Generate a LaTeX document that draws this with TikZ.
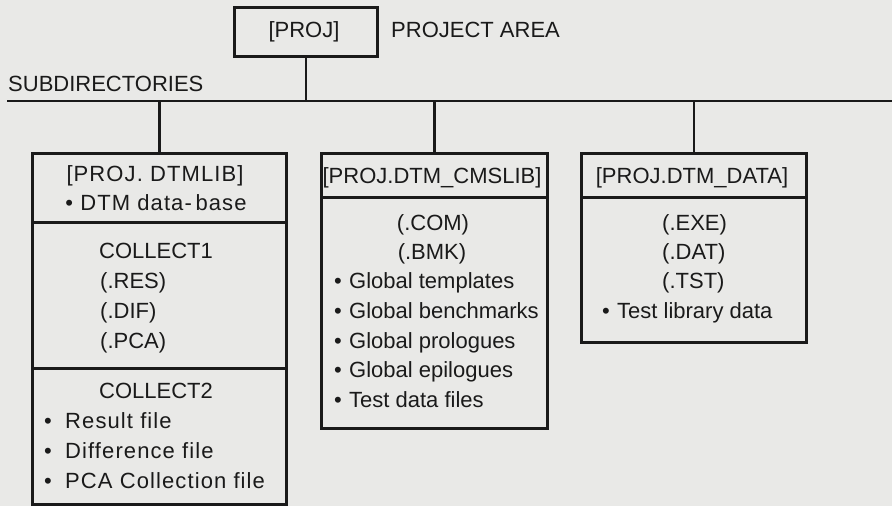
\documentclass[tikz,border=0pt]{standalone}
\usepackage{fontspec}
\setmainfont{Liberation Sans}
\newfontfamily\widefont[LetterSpace=5]{Liberation Sans}
\definecolor{paper}{RGB}{233,233,231}
\definecolor{ink}{RGB}{26,26,26}
% bullet followed by a fixed gap before the item text
\newcommand{\itm}[2][15pt]{\makebox[#1][l]{\textbullet}#2}
\begin{document}
\begin{tikzpicture}[x=1pt,y=-1pt,
  box/.style={draw=ink,line width=2.8pt,inner sep=0pt,anchor=north west},
  wire/.style={draw=ink,line width=2.4pt},
  txt/.style={inner sep=0pt,anchor=base,text=ink,font=\fontsize{22}{26}\selectfont},
  txtl/.style={txt,anchor=base west},
  wide/.style={font=\fontsize{22}{26}\widefont}]
\fill[paper] (0,0) rectangle (892,506);
\useasboundingbox (0,0) rectangle (892,506);

% root directory box and headings
\node[box,minimum width=143,minimum height=49] (proj) at (233,6) {};
\node[txt] (projname) at (304,37) {[PROJ]};
\node[txtl] (area) at (391,37) {PROJECT AREA};
\node[txtl] (subdirs) at (8,91) {SUBDIRECTORIES};

% subdirectory boxes
\node[box,minimum width=254,minimum height=69]  (libhead) at (31,152) {};
\node[box,minimum width=254,minimum height=146] (libcoll1) at (31,221) {};
\node[box,minimum width=254,minimum height=136] (libcoll2) at (31,367) {};
\node[box,minimum width=226,minimum height=44]  (cmshead) at (320,152) {};
\node[box,minimum width=226,minimum height=231] (cmsbody) at (320,196) {};
\node[box,minimum width=225,minimum height=44]  (datahead) at (580,152) {};
\node[box,minimum width=225,minimum height=145] (databody) at (580,196) {};

% tree connectors
\coordinate (busL) at (7,101);
\coordinate (busR) at (892,101);
\draw[wire] (busL) -- (busR);
\draw[wire] (proj.south) -- (proj.south |- busL);
\draw[wire] (libhead.north) -- (libhead.north |- busL);
\draw[wire] (cmshead.north) -- (cmshead.north |- busL);
\draw[wire] (datahead.north) -- (datahead.north |- busL);

% [PROJ.DTMLIB]
\node[txt,wide] (t1) at (155,181) {[PROJ. DTMLIB]};
\node[txt,wide] (t2) at (156,210) {\textbullet\ DTM data-\,base};
\node[txtl] (t3) at (99,258) {COLLECT1};
\node[txtl] (t4) at (100,288) {(.RES)};
\node[txtl] (t5) at (100,318) {(.DIF)};
\node[txtl] (t6) at (100,348) {(.PCA)};
\node[txtl] (t7) at (99,398) {COLLECT2};
\node[txtl,wide] (t8) at (44,428) {\itm[21pt]{Result file}};
\node[txtl,wide] (t9) at (44,458) {\itm[21pt]{Difference file}};
\node[txtl,wide] (t10) at (44,488) {\itm[21pt]{PCA Collection file}};

% [PROJ.DTM_CMSLIB]
\node[txt] (c1) at (432,183) {[PROJ.DTM\_CMSLIB]};
\node[txt] (c2) at (433,230) {(.COM)};
\node[txt] (c3) at (432,259) {(.BMK)};
\node[txtl] (c4) at (334,288) {\itm{Global templates}};
\node[txtl] (c5) at (334,318) {\itm{Global benchmarks}};
\node[txtl] (c6) at (334,348) {\itm{Global prologues}};
\node[txtl] (c7) at (334,377) {\itm{Global epilogues}};
\node[txtl] (c8) at (334,407) {\itm{Test data files}};

% [PROJ.DTM_DATA]
\node[txt] (d1) at (692,183) {[PROJ.DTM\_DATA]};
\node[txtl] (d2) at (662,230) {(.EXE)};
\node[txtl] (d3) at (662,259) {(.DAT)};
\node[txtl] (d4) at (662,288) {(.TST)};
\node[txtl] (d5) at (602,318) {\itm{Test library data}};
\end{tikzpicture}
\end{document}
